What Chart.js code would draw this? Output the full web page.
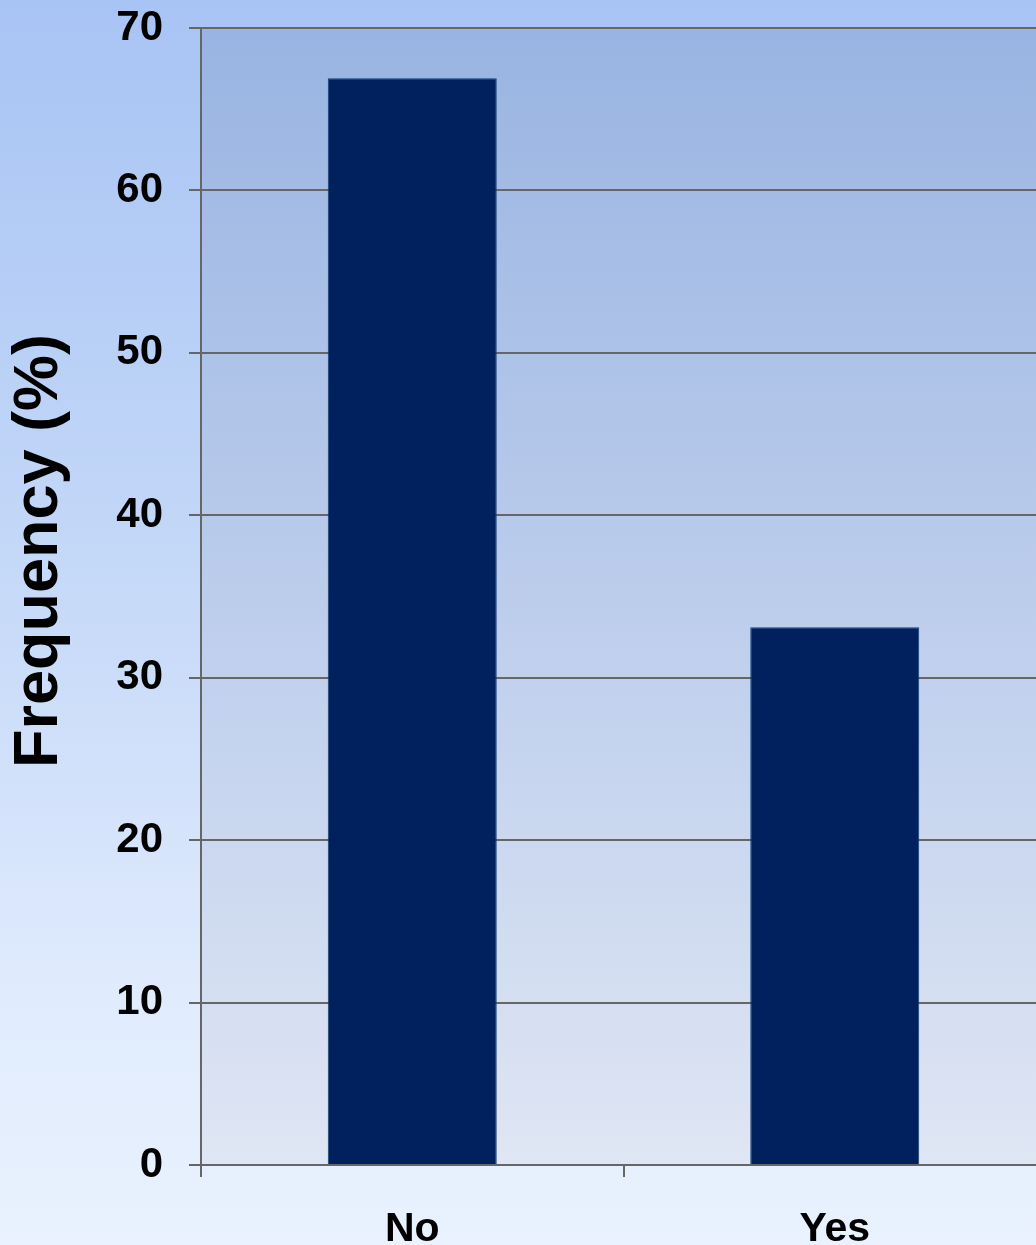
<!DOCTYPE html>
<html>
<head>
<meta charset="utf-8">
<script src="https://cdn.jsdelivr.net/npm/chart.js@4"></script>
<style>
html,body{margin:0;padding:0;overflow:hidden;width:1036px;height:1245px;}
body{background:linear-gradient(180deg,#a8c4f4 0%,#c4d8f8 45%,#e0ebfd 80%,#e9f2fe 100%);}
#wrap{position:absolute;left:0;top:0;width:1046px;height:1245px;}
</style>
</head>
<body>
<div id="wrap"><canvas id="c" width="1046" height="1245"></canvas></div>
<script>
const categories = ["No", "Yes"];
const frequency = [66.9, 33.1];
const yTicks = [0, 10, 20, 30, 40, 50, 60, 70];
const yTitle = "Frequency (%)";

const FONT = "'Liberation Sans', Arial, sans-serif";

const plotBg = {
  id: 'plotBg',
  beforeDraw(chart) {
    const {ctx, chartArea: a} = chart;
    const g = ctx.createLinearGradient(0, a.top, 0, a.bottom);
    g.addColorStop(0, '#99b4e2');
    g.addColorStop(0.5, '#bccdec');
    g.addColorStop(1, '#dfe6f4');
    ctx.save();
    ctx.fillStyle = g;
    ctx.fillRect(a.left, a.top, a.right - a.left, a.bottom - a.top);
    ctx.restore();
  }
};

const yTitlePlugin = {
  id: 'yTitlePlugin',
  afterDraw(chart) {
    const ctx = chart.ctx;
    ctx.save();
    ctx.translate(40, 551);
    ctx.rotate(-Math.PI / 2);
    ctx.font = "bold 63px " + FONT;
    ctx.fillStyle = '#000';
    ctx.textAlign = 'center';
    ctx.textBaseline = 'middle';
    ctx.fillText(yTitle, 0, 0);
    ctx.restore();
  }
};

new Chart(document.getElementById('c'), {
  type: 'bar',
  data: {
    labels: categories,
    datasets: [{
      data: frequency,
      backgroundColor: '#00215e',
      borderColor: '#123f73',
      borderWidth: 1,
      barPercentage: 0.4,
      categoryPercentage: 1.0
    }]
  },
  options: {
    responsive: false,
    animation: false,
    layout: {padding: {top: 28, right: 0, left: 0, bottom: 0}},
    plugins: {legend: {display: false}, tooltip: {enabled: false}},
    scales: {
      x: {
        offset: true,
        grid: {
          offset: true,
          drawOnChartArea: false,
          drawTicks: true,
          tickLength: 12,
          color: '#666666',
          lineWidth: 2
        },
        border: {display: true, color: '#666666', width: 2},
        ticks: {
          color: '#000',
          font: {family: FONT, size: 41, weight: 'bold'},
          padding: 28,
          maxRotation: 0
        },
        afterFit(s) { s.height = 80; s.paddingLeft = 0; s.paddingRight = 0; }
      },
      y: {
        min: 0,
        max: 70,
        afterBuildTicks(s) { s.ticks = yTicks.map(v => ({value: v})); },
        grid: {
          color: '#666666',
          lineWidth: 2,
          tickLength: 12
        },
        border: {display: true, color: '#666666', width: 2},
        ticks: {
          color: '#000',
          font: {family: FONT, size: 42, weight: 'bold'},
          padding: 26
        },
        afterFit(s) { s.width = 201; s.paddingTop = 0; s.paddingBottom = 0; }
      }
    }
  },
  plugins: [plotBg, yTitlePlugin]
});
</script>
</body>
</html>
